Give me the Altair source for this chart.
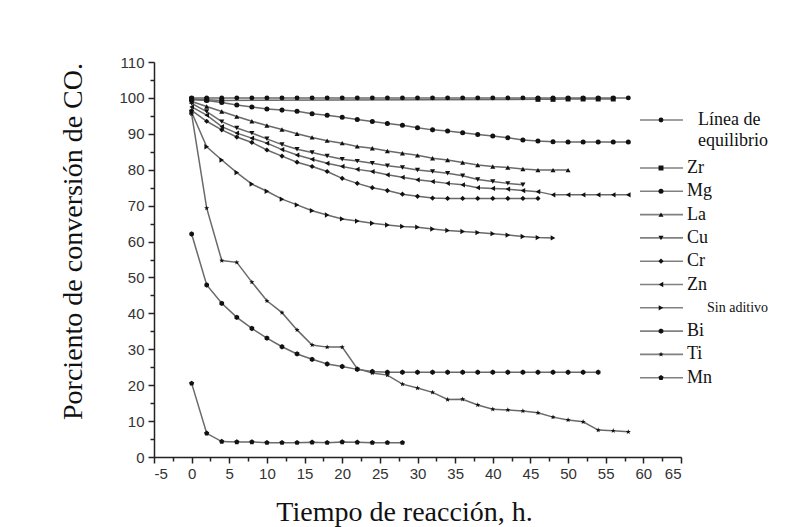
import altair as alt
import pandas as pd

# ---------------- data ----------------
series_names = ["Línea de equilibrio", "Zr", "Mg", "La", "Cu", "Cr", "Zn",
                "Sin aditivo", "Bi", "Ti", "Mn"]

hours = [0, 2, 4, 6, 8, 10, 12, 14, 16, 18, 20, 22, 24, 26, 28, 30, 32, 34,
         36, 38, 40, 42, 44, 46, 48, 50, 52, 54, 56, 58]

equilibrio = [100, 100, 100, 100, 100, 100, 100, 100, 100, 100, 100, 100, 100, 100, 100,
              100, 100, 100, 100, 100, 100, 100, 100, 100, 100, 100, 100, 100, 100, 100]
zr_hours = [0, 2, 4, 46, 48, 50, 52, 54, 56]
zr = [99.7, 99.5, 99.3, 99.6, 99.6, 99.7, 99.7, 99.7, 99.7]
mg = [99.5, 99.3, 98.7, 98.0, 97.5, 96.9, 96.6, 96.3, 95.6, 95.2, 94.6, 94.0, 93.4, 92.9,
      92.4, 91.7, 91.1, 90.8, 90.3, 89.8, 89.4, 88.9, 88.3, 88.0, 87.8, 87.7, 87.7, 87.7,
      87.7, 87.7]
la = [99.0, 97.6, 96.2, 94.8, 93.5, 92.3, 91.2, 90.0, 89.0, 88.1, 87.4, 86.5, 86.0, 85.2,
      84.6, 84.0, 83.2, 82.7, 82.0, 81.3, 80.9, 80.6, 80.2, 79.9, 79.9, 79.9]
cu = [98.5, 96.2, 93.4, 91.6, 90.2, 88.6, 87.0, 85.7, 84.8, 83.8, 82.9, 82.4, 81.8, 81.1,
      80.6, 79.9, 79.5, 79.0, 78.3, 77.3, 76.7, 76.2, 75.8]
cr = [96.5, 93.5, 91.1, 89.1, 87.6, 85.5, 83.8, 82.1, 80.9, 79.5, 77.6, 76.2, 75.0, 74.2,
      73.2, 72.6, 72.1, 72.0, 72.0, 72.0, 72.0, 72.0, 72.0, 72.0]
zn = [97.5, 95.2, 92.0, 90.2, 88.8, 87.4, 85.6, 84.1, 82.9, 81.8, 80.9, 80.1, 79.5, 78.6,
      77.9, 77.2, 76.7, 76.2, 75.8, 75.0, 74.8, 74.6, 74.2, 73.9, 73.0, 73.0, 73.0, 73.0,
      73.0, 73.0]
sin_aditivo = [96.0, 86.4, 82.7, 79.2, 76.0, 74.0, 71.8, 70.2, 68.6, 67.4, 66.3, 65.7, 65.1,
               64.6, 64.2, 64.0, 63.5, 63.1, 62.8, 62.5, 62.2, 61.8, 61.4, 61.1, 61.0]
bi = [62.1, 47.9, 42.8, 38.9, 35.8, 33.1, 30.7, 28.7, 27.2, 25.9, 25.2, 24.4, 23.8, 23.6,
      23.6, 23.6, 23.6, 23.6, 23.6, 23.6, 23.6, 23.6, 23.6, 23.6, 23.6, 23.6, 23.6, 23.6]
ti = [95.5, 69.3, 54.7, 54.2, 48.7, 43.5, 40.2, 35.4, 31.2, 30.6, 30.6, 24.6, 23.4, 22.8,
      20.3, 19.2, 18.0, 16.0, 16.1, 14.5, 13.3, 13.1, 12.8, 12.3, 11.1, 10.3, 9.8, 7.5,
      7.3, 7.0]
mn = [20.5, 6.6, 4.3, 4.2, 4.2, 4.0, 4.0, 4.0, 4.1, 4.0, 4.2, 4.1, 4.0, 4.0, 4.0]

x_tick_values = [-5, -2.5, 0, 2.5, 5, 7.5, 10, 12.5, 15, 17.5, 20, 22.5, 25, 27.5, 30,
                 32.5, 35, 37.5, 40, 42.5, 45, 47.5, 50, 52.5, 55, 57.5, 60, 62.5, 65]
y_tick_values = [0, 5, 10, 15, 20, 25, 30, 35, 40, 45, 50, 55, 60, 65, 70, 75, 80, 85,
                 90, 95, 100, 105, 110]

# ---------------- build long table ----------------
series_data = {
    "Línea de equilibrio": (hours, equilibrio),
    "Zr": (zr_hours, zr),
    "Mg": (hours, mg),
    "La": (hours[:len(la)], la),
    "Cu": (hours[:len(cu)], cu),
    "Cr": (hours[:len(cr)], cr),
    "Zn": (hours, zn),
    "Sin aditivo": (hours[:len(sin_aditivo)], sin_aditivo),
    "Bi": (hours[:len(bi)], bi),
    "Ti": (hours, ti),
    "Mn": (hours[:len(mn)], mn),
}
rows = []
for name in series_names:
    hs, vs = series_data[name]
    for h, v in zip(hs, vs):
        rows.append({"serie": name, "hora": h, "conv": v})
df = pd.DataFrame(rows)

# ---------------- styles ----------------
HEX = "M0,-1L0.87,-0.5L0.87,0.5L0,1L-0.87,0.5L-0.87,-0.5Z"
STAR = ("M0,-1L0.24,-0.33L0.95,-0.31L0.38,0.12L0.59,0.81L0,0.4L-0.59,0.81"
        "L-0.38,0.12L-0.95,-0.31L-0.24,-0.33Z")
PENT = "M0,-1L0.95,-0.31L0.59,0.81L-0.59,0.81L-0.95,-0.31Z"
shape_range = ["circle", "square", "circle", "triangle-up", "triangle-down", "diamond",
               "triangle-left", "triangle-right", HEX, STAR, PENT]
size_range = [24, 30, 38, 40, 40, 44, 40, 40, 46, 70, 46]

shape_scale = alt.Scale(domain=series_names, range=shape_range)
size_scale = alt.Scale(domain=series_names, range=size_range)

LINE_COLOR = "#6a6a6a"
LEG_LINE_COLOR = "#808080"
MARK_COLOR = "#111111"

x_enc = alt.X(
    "hora:Q",
    scale=alt.Scale(domain=[-5, 65], nice=False, zero=False),
    axis=alt.Axis(
        values=x_tick_values,
        labelExpr="datum.value % 5 === 0 ? toString(datum.value) : ''",
        tickSize={"condition": {"test": "datum.value % 5 === 0", "value": 6}, "value": 4},
        labelOverlap=False,
        labelPadding=3,
        title="Tiempo de reacción, h.",
        titleX=250, titleY=63, titleAlign="center", titleBaseline="alphabetic",
    ),
)
y_enc = alt.Y(
    "conv:Q",
    scale=alt.Scale(domain=[0, 110], nice=False, zero=False),
    axis=alt.Axis(
        values=y_tick_values,
        labelExpr="datum.value % 10 === 0 ? toString(datum.value) : ''",
        tickSize={"condition": {"test": "datum.value % 10 === 0", "value": 6}, "value": 4},
        labelOverlap=False,
        labelPadding=4,
        title="Porciento de conversión de CO.",
        titleX=-73, titleY=179, titleAngle=-90, titleAlign="center",
        titleBaseline="alphabetic",
    ),
)

lines = alt.Chart(df).mark_line(color=LINE_COLOR, strokeWidth=1.5).encode(
    x=x_enc, y=y_enc, detail="serie:N"
)
points = alt.Chart(df).mark_point(filled=True, color=MARK_COLOR, opacity=1).encode(
    x=x_enc, y=y_enc,
    shape=alt.Shape("serie:N", scale=shape_scale, legend=None),
    size=alt.Size("serie:N", scale=size_scale, legend=None),
)

# ---------------- manual legend (pixel layout relative to plot area) ----------------
leg_rows = []
for i, name in enumerate(series_names):
    py = 58 if i == 0 else 106 + (i - 1) * 23.3
    label = "Línea de\nequilibrio" if i == 0 else name
    leg_rows.append({"serie": name, "py": py, "label": label})
leg_df = pd.DataFrame(leg_rows)

leg_y = alt.Y("py:Q", scale=None, axis=None)
leg_base = alt.Chart(leg_df)
leg_rules = leg_base.mark_rule(color=LEG_LINE_COLOR, strokeWidth=1.6).encode(
    x=alt.value(486), x2=alt.value(529), y=leg_y
)
leg_points = leg_base.mark_point(filled=True, color=MARK_COLOR, opacity=1).encode(
    x=alt.value(507), y=leg_y,
    shape=alt.Shape("serie:N", scale=shape_scale, legend=None),
    size=alt.Size("serie:N", scale=size_scale, legend=None),
)
leg_text_main = leg_base.transform_filter(
    "datum.serie !== 'Línea de equilibrio' && datum.serie !== 'Sin aditivo'"
).mark_text(align="left", baseline="middle", font="Liberation Serif", fontSize=18,
            color="#111111").encode(x=alt.value(533), y=leg_y, text="label:N")
leg_text_eq = leg_base.transform_filter(
    "datum.serie === 'Línea de equilibrio'"
).mark_text(align="left", baseline="middle", font="Liberation Serif", fontSize=18,
            lineBreak="\n", lineHeight=21, color="#111111").encode(
    x=alt.value(544), y=leg_y, text="label:N")
leg_text_sin = leg_base.transform_filter(
    "datum.serie === 'Sin aditivo'"
).mark_text(align="left", baseline="middle", font="Liberation Serif", fontSize=14,
            color="#111111").encode(x=alt.value(553), y=leg_y, text="label:N")

chart = alt.layer(
    lines, points, leg_rules, leg_points, leg_text_main, leg_text_eq, leg_text_sin
).properties(
    width=527, height=395,
    autosize=alt.AutoSizeParams(type="none"),
    padding={"left": 154, "top": 62, "right": 112, "bottom": 70},
    background="white",
).configure_view(stroke=None).configure_axis(
    grid=False,
    domainColor="#222222", domainWidth=1.5,
    tickColor="#222222", tickWidth=1.5,
    labelFont="Liberation Sans", labelFontSize=15, labelColor="#333333",
    titleFont="Liberation Serif", titleFontSize=28, titleFontWeight="normal",
    titleColor="#111111",
)

chart.save("out.html", embed_options={"renderer": "svg", "actions": False})
